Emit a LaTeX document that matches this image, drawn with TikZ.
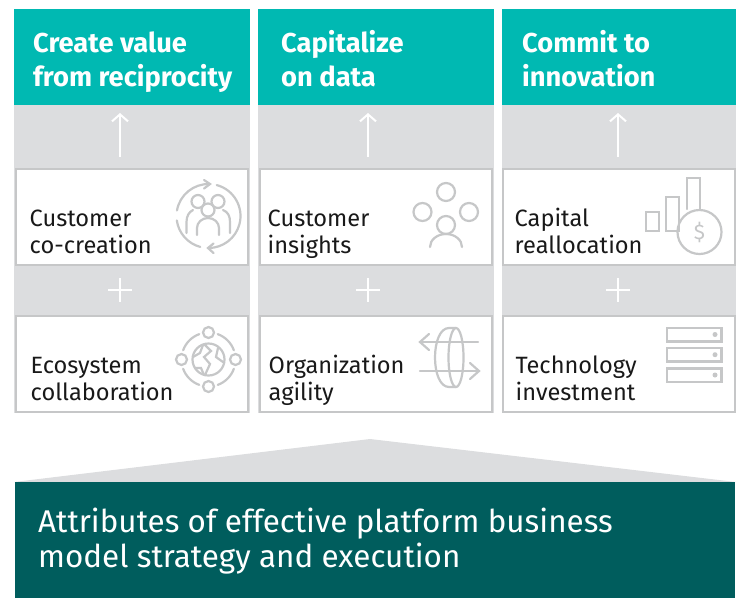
\documentclass[tikz,border=0pt]{standalone}
\usepackage{fontspec}
\setmainfont{Fira Sans}
\usetikzlibrary{arrows.meta,calc}
\definecolor{tealhead}{HTML}{00B9B2}
\definecolor{tealdark}{HTML}{005D5D}
\definecolor{panelgray}{HTML}{DCDDDF}
\definecolor{linegray}{HTML}{C6C7C8}
\tikzset{
  head/.style = {fill=tealhead,draw=none,minimum width=236,minimum height=96,inner sep=0},
  panel/.style = {fill=panelgray,draw=none,minimum width=236,minimum height=308,inner sep=0},
  box/.style = {fill=white,draw=linegray,line width=2.5,minimum width=232,minimum height=96,inner sep=0},
  headtext/.style = {anchor=west,align=left,text=white,inner sep=0,font=\fontsize{27.3}{34}\selectfont\bfseries},
  boxtext/.style = {anchor=west,align=left,text=black!90,inner sep=0,font=\fontsize{23.6}{27}\selectfont},
  icon/.style = {draw=linegray,line width=2.2,line cap=round},
  up/.style = {draw=white,line width=2,-{Straight Barb[length=7,width=16]}},
  sign/.style = {draw=white,line width=2}
}
% plus sign from two crossing strokes
\newcommand{\plussign}[2]{
  \coordinate (#1w) at ($(#2)+(-12,0)$);
  \coordinate (#1e) at ($(#2)+(12,0)$);
  \coordinate (#1n) at ($(#2)+(0,-12)$);
  \coordinate (#1s) at ($(#2)+(0,12)$);
  \draw[sign] (#1w) -- (#1e);
  \draw[sign] (#1n) -- (#1s);
}
\newcommand{\twolines}[2]{\strut #1\\\strut #2}

\begin{document}
\begin{tikzpicture}[x=1pt,y=-1pt]
    \useasboundingbox (0,0) rectangle (738,598);

    % columns
    \node[panel] (panelA) at (132,259) {};
    \node[panel] (panelB) at (376,259) {};
    \node[panel,minimum width=234] (panelC) at (619,259) {};
    \node[head] (headA) at (132,57) {};
    \node[head] (headB) at (376,57) {};
    \node[head,minimum width=234] (headC) at (619,57) {};
    \node[headtext] (titleA) at (33,62.2) {\twolines{Create value}{from reciprocity}};
    \node[headtext] (titleB) at (281,62.2) {\twolines{Capitalize}{on data}};
    \node[headtext] (titleC) at (522,62.2) {\twolines{Commit to}{innovation}};

    % boxes
    \node[box] (cocreation) at (132,217) {};
    \node[box] (ecosystem) at (132,364) {};
    \node[box] (insights) at (376,217) {};
    \node[box] (agility) at (376,364) {};
    \node[box,minimum width=232] (capital) at (619,217) {};
    \node[box,minimum width=232] (technology) at (619,364) {};
    \node[boxtext] (cocreationtext) at (29.5,234.8) {\twolines{Customer}{co-creation}};
    \node[boxtext] (ecosystemtext) at (30.5,382) {\twolines{Ecosystem}{collaboration}};
    \node[boxtext] (insightstext) at (267.5,234.8) {\twolines{Customer}{insights}};
    \node[boxtext] (agilitytext) at (268.5,382) {\twolines{Organization}{agility}};
    \node[boxtext] (capitaltext) at (514.5,234.8) {\twolines{Capital}{reallocation}};
    \node[boxtext] (technologytext) at (515.5,382) {\twolines{Technology}{investment}};

    % arrows up to the heads
    \coordinate (fromA) at (120,157);
    \coordinate (toA) at (120,113);
    \coordinate (fromB) at (368,157);
    \coordinate (toB) at (368,113);
    \coordinate (fromC) at (618,157);
    \coordinate (toC) at (618,113);
    \draw[up] (fromA) -- (toA);
    \draw[up] (fromB) -- (toB);
    \draw[up] (fromC) -- (toC);

    \coordinate (plusA) at (120,290);
    \coordinate (plusB) at (368,290);
    \coordinate (plusC) at (618,290);
    \plussign{pa}{plusA}
    \plussign{pb}{plusB}
    \plussign{pc}{plusC}

    % base
    \fill[panelgray] (14,482) -- (370,439) -- (736,482) -- cycle;
    \node[fill=tealdark,draw=none,minimum width=720,minimum height=116,inner sep=0] (base) at (375,540) {};
    \node[anchor=west,align=left,text=white,inner sep=0,font=\fontsize{31.4}{32}\selectfont] (basetext) at (38,542.5) {\twolines{Attributes of effective platform business}{model strategy and execution}};

    % icon: customer co-creation
    \coordinate (ringA) at (208.5,216);
    \draw[icon] (ringA) ++(-170:32) arc (-170:-88:32);
    \draw[icon] (204,180) -- (210,184) -- (204,188.5);
    \draw[icon] (ringA) ++(-75:32) arc (-75:90:32);
    \draw[icon] (213.5,243.5) -- (208,248) -- (213.5,253);
    \draw[icon] (ringA) ++(105:32) arc (105:172:32);
    \draw[icon] (198,201.5) circle (6.5);
    \draw[icon] (218,201.5) circle (6.5);
    \draw[icon,fill=white] (208,210) circle (6.5);
    \draw[icon] (197,235) -- (197,228) arc (-180:0:11 and 10) -- (219,235);
    \draw[icon] (186.5,233) -- (186.5,222) .. controls (186.5,216) and (189,212) .. (193,210);
    \draw[icon] (230,233) -- (230,222) .. controls (230,216) and (228,212) .. (223,210);

    % icon: ecosystem collaboration
    \coordinate (ringB) at (208.5,359.5);
    \draw[icon] (208.5,332.5) circle (5.5);
    \draw[icon] (208.5,386.5) circle (5.5);
    \draw[icon] (181.5,359.5) circle (5.5);
    \draw[icon] (235.5,359.5) circle (5.5);
    \draw[icon] (ringB) ++(-160:27) arc (-160:-110:27);
    \draw[icon] (ringB) ++(-70:27) arc (-70:-20:27);
    \draw[icon] (ringB) ++(20:27) arc (20:70:27);
    \draw[icon] (ringB) ++(110:27) arc (110:160:27);
    \draw[icon] (ringB) circle (16);
    \draw[icon] (205,345) -- (211,351) -- (204,357) -- (210,364) -- (205,375);
    \draw[icon] (193,357) -- (200,353) -- (203,345);
    \draw[icon] (218,348) -- (216,357) -- (223,362);
    \draw[icon] (195,368) -- (201,368) -- (204,375);

    % icon: customer insights
    \draw[icon] (446,192) circle (9);
    \draw[icon] (422.5,212) circle (9);
    \draw[icon] (469,212) circle (9);
    \draw[icon] (446,225) circle (9);
    \draw[icon] (430,247) arc (-180:0:16 and 13);

    % icon: organization agility
    \draw[icon] (478,342) -- (420,342);
    \draw[icon] (429,334) -- (420,342) -- (429,350);
    \draw[icon] (420,371) -- (479,371);
    \draw[icon] (470,363) -- (479,371) -- (470,379);
    \draw[icon] (456,328) -- (449,328) .. controls (440,328) and (435,342) .. (435,357.5) .. controls (435,373) and (440,387) .. (449,387) -- (456,387);
    \draw[icon] (456,357.5) ellipse (7.5 and 29.5);

    % icon: capital reallocation
    \draw[icon] (646,212) rectangle (659,231);
    \draw[icon] (666,197) rectangle (679,231);
    \draw[icon] (687,209) -- (687,178) -- (700,178) -- (700,209);
    \draw[icon] (699.5,232) circle (22);
    \node[text=linegray,inner sep=0,font=\fontsize{21}{21}\selectfont] (dollar) at (699.5,232) {\$};

    % icon: technology investment
    \draw[icon] (667,328) rectangle (721.5,341.5);
    \draw[icon] (667,348) rectangle (721.5,361.5);
    \draw[icon] (667,368.5) rectangle (721.5,382);
    \fill[linegray] (715,334.5) circle (2.5);
    \fill[linegray] (715,354.7) circle (2.5);
    \fill[linegray] (715,375) circle (2.5);
\end{tikzpicture}
\end{document}
